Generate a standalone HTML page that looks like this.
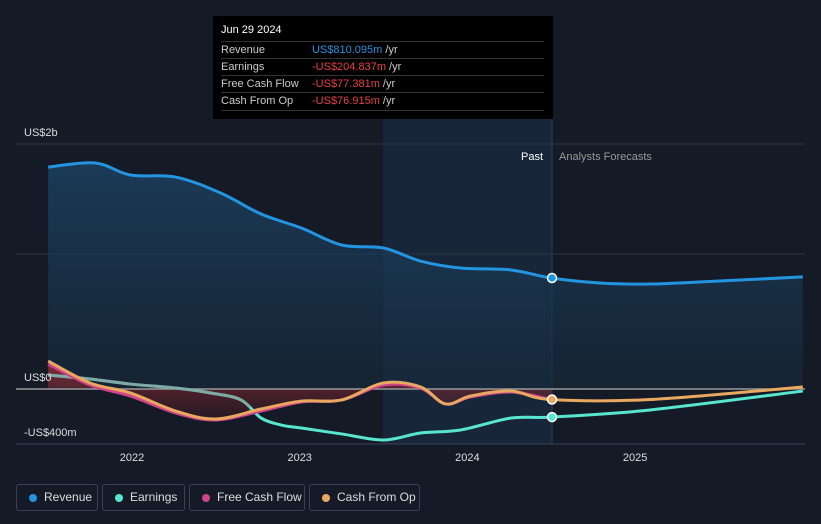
<!DOCTYPE html>
<html><head><meta charset="utf-8"><style>
body{margin:0;background:#151b26;font-family:"Liberation Sans",sans-serif;}
#wrap{position:relative;width:821px;height:524px;overflow:hidden;background:#151b26;}
svg{position:absolute;left:0;top:0}
.tt{position:absolute;left:213px;top:16px;width:340px;height:103px;background:#000;color:#ccc;font-size:11px}
.tt .h{position:absolute;left:8px;top:8px;color:#fff;font-size:11px}
.row{position:absolute;left:8px;width:323px;border-top:1px solid #333;height:17px;line-height:17px}
.row span{position:absolute;left:91px}
.leg{position:absolute;top:484px;height:27px;border:1px solid #3a4150;border-radius:3px;color:#ddd;font-size:12px;line-height:25px;box-sizing:border-box}
.leg i{position:absolute;top:9px;width:8px;height:8px;border-radius:50%}
.leg s{position:absolute;text-decoration:none}
</style></head><body>
<div id="wrap">
<svg id="c" width="821" height="524"></svg>
<div class="tt">
<div class="h">Jun 29 2024</div>
<div class="row" style="top:25px">Revenue<span><b style="font-weight:normal;color:#2394df">US$810.095m</b> /yr</span></div>
<div class="row" style="top:42px">Earnings<span><b style="font-weight:normal;color:#e8403f">-US$204.837m</b> /yr</span></div>
<div class="row" style="top:59px">Free Cash Flow<span><b style="font-weight:normal;color:#e8403f">-US$77.381m</b> /yr</span></div>
<div class="row" style="top:76px;border-bottom:1px solid #333">Cash From Op<span><b style="font-weight:normal;color:#e8403f">-US$76.915m</b> /yr</span></div>
</div>
<div class="leg" style="left:16px;width:82px"><i style="left:12px;background:#2394df"></i><s style="left:27px">Revenue</s></div>
<div class="leg" style="left:102px;width:83px"><i style="left:12px;background:#58e6d0"></i><s style="left:27px">Earnings</s></div>
<div class="leg" style="left:189px;width:116px"><i style="left:12px;background:#d0438a"></i><s style="left:27px">Free Cash Flow</s></div>
<div class="leg" style="left:309px;width:111px"><i style="left:12px;background:#e8a860"></i><s style="left:27px">Cash From Op</s></div>
</div>
<script>
const revX=[2021.5,2021.78,2021.99,2022.26,2022.53,2022.77,2023.01,2023.25,2023.5,2023.72,2023.96,2024.26,2024.5,2024.79,2025.09,2025.38,2026.0];
const revV=[1620,1650,1562,1547,1430,1277,1175,1051,1029,934,883,869,810,774,766,781,818];
const earnX=[2021.5,2021.75,2021.99,2022.26,2022.47,2022.65,2022.77,2022.89,2023.01,2023.25,2023.5,2023.72,2023.96,2024.26,2024.5,2025.09,2026.0];
const earnV=[102,73,36,7,-29,-80,-212,-263,-285,-328,-372,-321,-299,-212,-205,-153,-15];
const fcfX=[2021.5,2021.75,2021.99,2022.26,2022.5,2022.77,2023.01,2023.25,2023.5,2023.72,2023.87,2024.02,2024.26,2024.5];
const fcfV=[182,29,-51,-175,-226,-161,-95,-80,29,7,-109,-58,-22,-77];
const cfoX=[2021.5,2021.75,2021.99,2022.26,2022.5,2022.77,2023.01,2023.25,2023.5,2023.72,2023.87,2024.02,2024.26,2024.5,2025.09,2026.0];
const cfoV=[204,44,-29,-161,-219,-146,-88,-80,44,15,-109,-51,-15,-77,-77,15];
const xTicks=[2022,2023,2024,2025];
const yTicks=[{v:0,l:"US$0"},{v:-400,l:"-US$400m"}];
const X=t=>132+(t-2022)*167.7, Y=v=>389-v*0.137;
const NS="http://www.w3.org/2000/svg", svg=document.getElementById('c');
function add(tag,a,name){const e=document.createElementNS(NS,tag);for(const k in a)e.setAttribute(k,a[k]);


svg.appendChild(e);return e;}
function path(xs,vs){const p=xs.map((x,i)=>[X(x),Y(vs[i])]);let d=`M${p[0][0]},${p[0][1]}`;
for(let i=0;i<p.length-1;i++){const p0=p[i-1]||p[i],p1=p[i],p2=p[i+1],p3=p[i+2]||p2;
d+=`C${p1[0]+(p2[0]-p0[0])/6},${p1[1]+(p2[1]-p0[1])/6} ${p2[0]-(p3[0]-p1[0])/6},${p2[1]-(p3[1]-p1[1])/6} ${p2[0]},${p2[1]}`;}return d;}
const defs=document.createElementNS(NS,'defs');defs.innerHTML=`<linearGradient id="rg" x1="0" y1="0" x2="0" y2="1"><stop offset="0" stop-color="#1d4a6e" stop-opacity=".9"/><stop offset="1" stop-color="#16283b" stop-opacity=".8"/></linearGradient>
<linearGradient id="ng" x1="0" y1="0" x2="0" y2="1"><stop offset="0" stop-color="#b0303a" stop-opacity=".7"/><stop offset="1" stop-color="#501820" stop-opacity=".3"/></linearGradient>
<clipPath id="pc"><rect x="0" y="0" width="552" height="524"/></clipPath>
<clipPath id="gc"><rect x="0" y="0" width="250" height="524"/></clipPath>`;svg.appendChild(defs);
add('rect',{x:383,y:118,width:169,height:326,fill:'#172638'},'past-highlight');
add('line',{x1:552,y1:118,x2:552,y2:444,stroke:'#2a3e56'},'hover-line');
[144,254].forEach(y=>add('line',{x1:16,y1:y,x2:805,y2:y,stroke:'#2e3542'},'gridline'));
add('path',{d:path(revX,revV)+`L${X(revX[revX.length-1])},${Y(0)}L${X(revX[0])},${Y(0)}Z`,fill:'url(#rg)',opacity:.75},'revenue-area');
add('path',{d:path(fcfX,fcfV)+`L${X(fcfX[fcfX.length-1])},${Y(0)}L${X(fcfX[0])},${Y(0)}Z`,fill:'url(#ng)','clip-path':'url(#pc)'},'fcf-area');
add('line',{x1:16,y1:Y(0),x2:805,y2:Y(0),stroke:'#999','stroke-width':1.5},'zero-line');
add('line',{x1:16,y1:444,x2:805,y2:444,stroke:'#3a4150'},'x-axis');
add('path',{d:path(revX,revV),fill:'none',stroke:'#2394df','stroke-width':3},'revenue-line');
add('path',{d:path(earnX,earnV),fill:'none',stroke:'#58e6d0','stroke-width':3},'earnings-line');
add('path',{d:path(earnX,earnV),fill:'none',stroke:'#8a9a98','stroke-width':3,'clip-path':'url(#gc)',opacity:.8},'earnings-line-muted');
add('path',{d:path(fcfX,fcfV),fill:'none',stroke:'#d0438a','stroke-width':3},'fcf-line');
add('path',{d:path(cfoX,cfoV),fill:'none',stroke:'#e8a860','stroke-width':3},'cfo-line');
[[revV[12],'#2394df'],[earnV[14],'#58e6d0'],[cfoV[13],'#e8a860']].forEach(([v,c])=>add('circle',{cx:552,cy:Y(v),r:4.5,fill:c,stroke:'#fff','stroke-width':1.5},'marker'));
function txt(x,y,s,a,name){const t=add('text',Object.assign({x,y,'font-size':11,fill:'#ddd','font-family':'Liberation Sans'},a),name);t.textContent=s;}
xTicks.forEach(t=>txt(X(t),461,t,{'text-anchor':'middle'},'x-tick'));
yTicks.forEach(t=>txt(24,Y(t.v)-8,t.l,{},'y-tick'));
txt(24,136,'US$2b',{},'y-tick');
txt(543,160,'Past',{'text-anchor':'end',fill:'#fff'},'past-label');
txt(559,160,'Analysts Forecasts',{fill:'#999'},'forecast-label');
</script>
</body></html>
